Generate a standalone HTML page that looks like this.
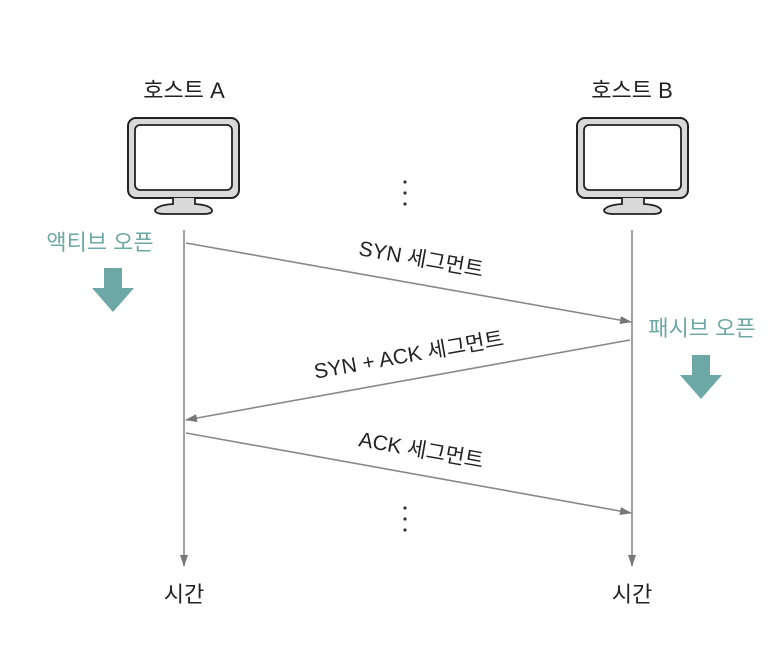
<!DOCTYPE html>
<html><head><meta charset="utf-8"><style>body{margin:0;background:#fff}</style></head><body>
<svg width="782" height="648" xmlns="http://www.w3.org/2000/svg" font-family="'Liberation Sans','Noto Sans CJK KR',sans-serif">
<defs><marker id="ah" markerWidth="12" markerHeight="8" refX="11" refY="4" orient="auto" markerUnits="userSpaceOnUse"><path d="M0,0 L12,4 L0,8 z" fill="#777"/></marker></defs>
<g font-size="22" fill="#222" text-anchor="middle">
<text x="184" y="98">호스트 A</text><text x="632" y="98">호스트 B</text>
<text x="184" y="602">시간</text><text x="632" y="602">시간</text>
</g>
<g id="mon">
<rect x="128" y="118" width="111" height="80" rx="8" fill="#d9d9d9" stroke="#222" stroke-width="2"/>
<rect x="135" y="125" width="97" height="65" rx="5" fill="#fff" stroke="#222" stroke-width="1.8"/>
<path d="M173,198 L173,204 Q158,205 155,210 Q155,214 165,214 L203,214 Q213,214 212,210 Q210,205 195,204 L195,198" fill="#d9d9d9" stroke="#222" stroke-width="1.8"/>
</g>
<use href="#mon" x="449"/>
<g stroke="#888" stroke-width="1.6" fill="none">
<line x1="184" y1="230" x2="184" y2="566" marker-end="url(#ah)"/>
<line x1="632" y1="230" x2="632" y2="566" marker-end="url(#ah)"/>
<line x1="186" y1="243" x2="631" y2="322" marker-end="url(#ah)"/>
<line x1="630" y1="340" x2="186" y2="420" marker-end="url(#ah)"/>
<line x1="186" y1="433" x2="631" y2="513" marker-end="url(#ah)"/>
</g>
<g font-size="21" fill="#222" text-anchor="middle">
<text transform="translate(420,266) rotate(10)">SYN 세그먼트</text>
<text transform="translate(410,362) rotate(-10)">SYN + ACK 세그먼트</text>
<text transform="translate(420,457) rotate(10)">ACK 세그먼트</text>
</g>
<g fill="#333"><circle cx="405" cy="182" r="1.6"/><circle cx="405" cy="193" r="1.6"/><circle cx="405" cy="204" r="1.6"/>
<circle cx="405" cy="508" r="1.6"/><circle cx="405" cy="519" r="1.6"/><circle cx="405" cy="530" r="1.6"/></g>
<g fill="#6ea8a6" font-size="22" text-anchor="middle">
<text x="100" y="250">액티브 오픈</text><text x="702" y="336">패시브 오픈</text>
<path d="M104,268 h18 v20 h12 l-21,24 l-21,-24 h12 z"/>
<path d="M692,355 h18 v20 h12 l-21,24 l-21,-24 h12 z"/>
</g>
</svg>
</body></html>
